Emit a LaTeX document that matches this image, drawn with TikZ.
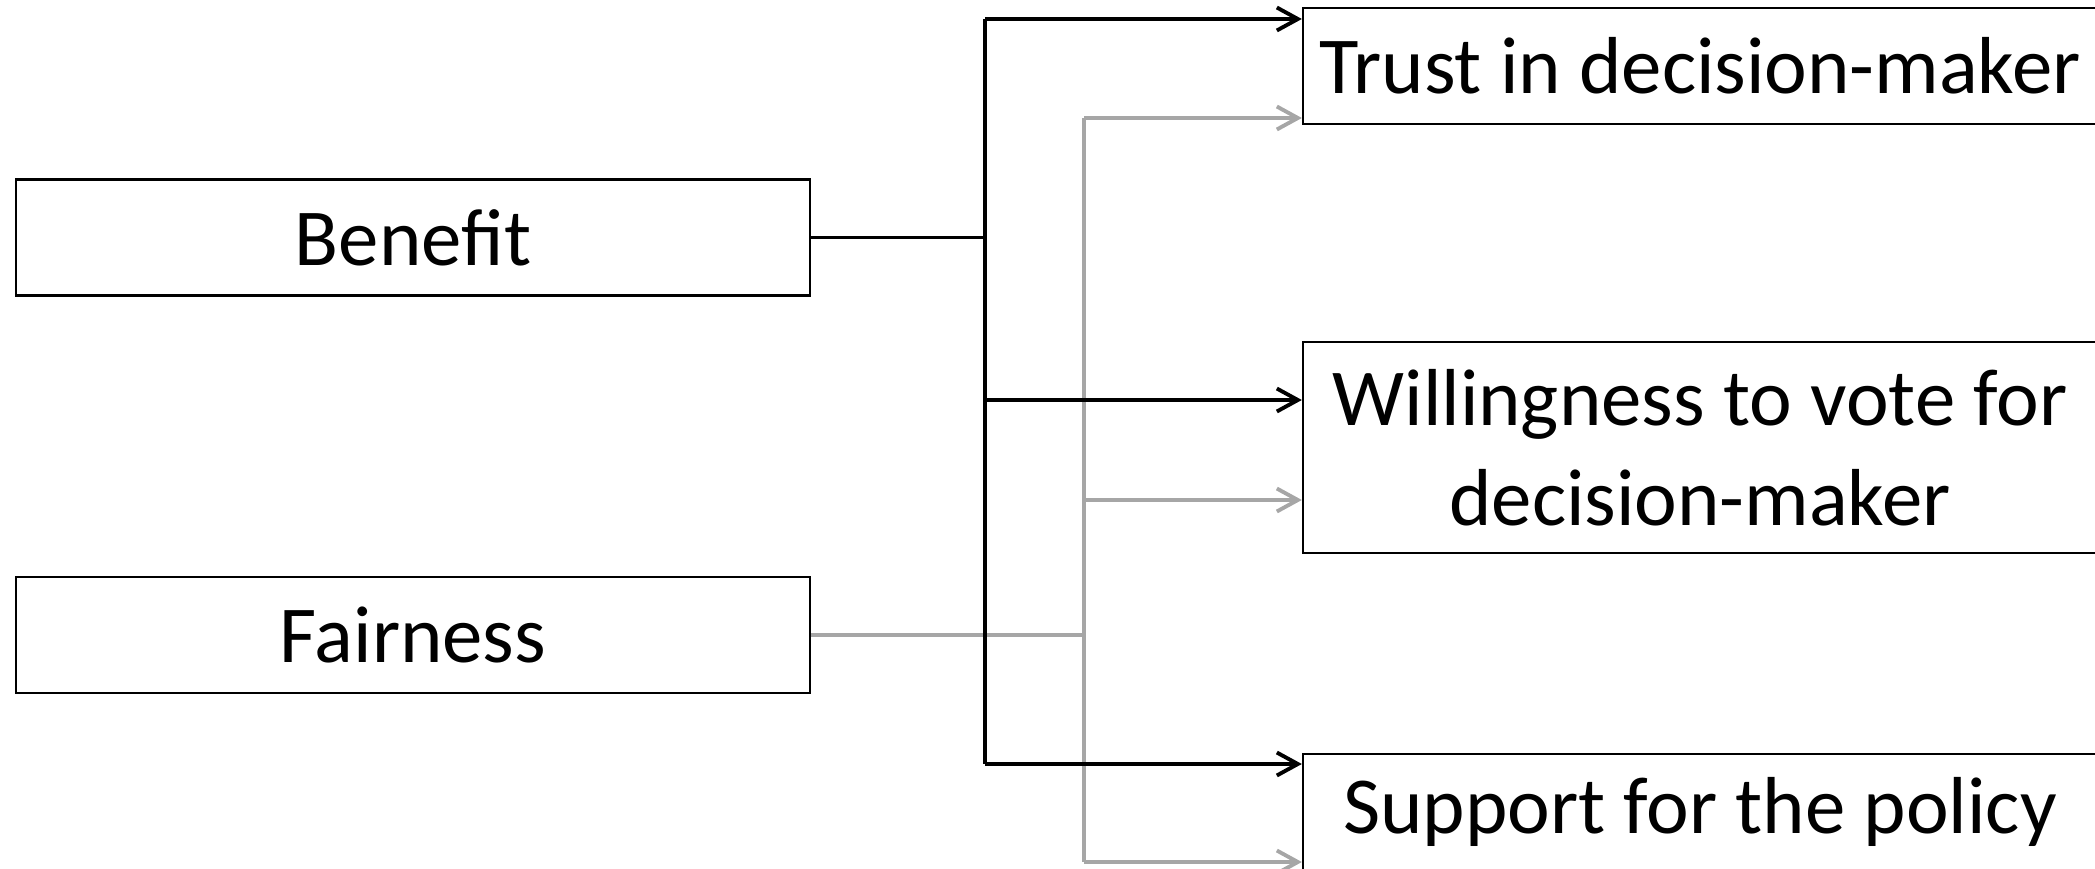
\documentclass[tikz,border=0pt]{standalone}
\usepackage{fontspec}
\setmainfont{Carlito}
\usepackage{tikz}
\usetikzlibrary{positioning,arrows.meta}

\definecolor{linegray}{RGB}{166,166,166}

\begin{document}
\begin{tikzpicture}[on grid,
    box/.style={draw,line width=0.65pt,minimum width=7.94cm,minimum height=1.16cm,
                inner sep=0pt,align=center,font=\fontsize{23}{28.5}\selectfont},
    tall/.style={box,minimum height=2.11cm},
    blk/.style={line width=1.1pt,black},
    gry/.style={line width=1.1pt,linegray},
    >={Straight Barb[length=2.1mm,width=2.3mm]}]
  \useasboundingbox (0,0) rectangle (20.95,8.68);

  % causes
  \node[box]  (ben)                         at (4.13,6.305) {Benefit};
  \node[box]  (fair)  [below=3.975 of ben]                   {Fairness};
  % outcomes
  \node[box]  (trust)                       at (17.00,8.02) {Trust in decision-maker};
  \node[tall] (vote)  [below=3.815 of trust]                {Willingness to vote for\\decision-maker};
  \node[box]  (supp)  [below=3.645 of vote]                 {Support for the policy};

  % bus lines
  \coordinate (bTop) at (9.85,8.49);
  \coordinate (bMid) at (9.85,4.68);
  \coordinate (bBot) at (9.85,1.04);
  \coordinate (gTop) at (10.84,7.50);
  \coordinate (gMid) at (10.84,3.68);
  \coordinate (gBot) at (10.84,0.06);

  \draw[gry] (fair.east) -- (fair.east -| gTop);
  \draw[gry] (gTop) -- (gBot);
  \path[gry,->] (gTop) edge (gTop -| trust.west)
                (gMid) edge (gMid -| vote.west)
                (gBot) edge (gBot -| supp.west);

  \draw[blk] (ben.east) -- (ben.east -| bTop);
  \draw[blk] (bTop) -- (bBot);
  \path[blk,->] (bTop) edge (bTop -| trust.west)
                (bMid) edge (bMid -| vote.west)
                (bBot) edge (bBot -| supp.west);
\end{tikzpicture}
\end{document}
